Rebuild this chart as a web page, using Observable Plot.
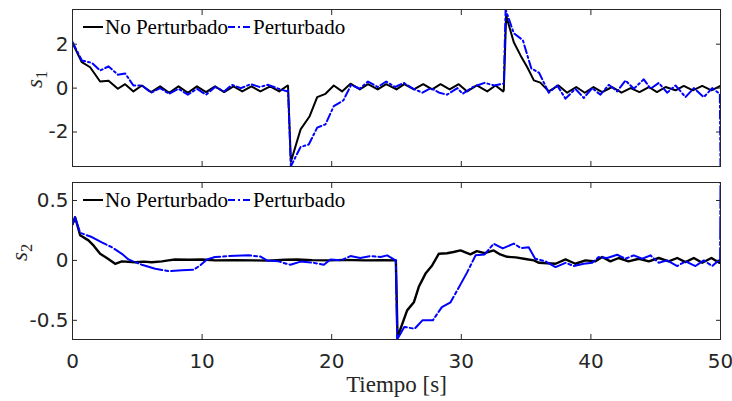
<!DOCTYPE html>
<html><head><meta charset="utf-8">
<script src="https://cdn.jsdelivr.net/npm/d3@7"></script>
<script src="https://cdn.jsdelivr.net/npm/@observablehq/plot@0.6"></script>
<style>
body{margin:0;background:#fff;}
#wrap{position:relative;width:732px;height:401px;overflow:hidden;}
.panel{position:absolute;left:0;}
.lg{position:absolute;left:0;width:400px;height:24px;font-family:"Liberation Serif",serif;font-size:21px;line-height:24px;color:#000;}
.lg span{position:absolute;top:0;white-space:nowrap;}
.lg svg{position:absolute;top:0;}
</style></head><body><div id="wrap"></div>
<script>
// ---- data (time [s], value) ----
const xTicks = [0, 10, 20, 30, 40, 50];
const s1Ticks = [-2, 0, 2];
const s2Ticks = [-0.5, 0, 0.5];
const s1Domain = [-3.57, 3.58];
const s2Domain = [-0.66, 0.65];
const seriesNames = ["No Perturbado", "Perturbado"];

const s1NoPert = [[0,2.05],[0.72,1.18],[1.36,0.95],[2.13,0.30],[2.78,0.34],[3.5,-0.03],[4.06,0.18],[4.7,-0.15],[5.35,0.12],[6.07,-0.18],[6.76,0.08],[7.46,-0.21],[8.18,0.08],[8.9,-0.21],[9.6,0.08],[10.3,-0.18],[11.0,0.08],[11.7,-0.18],[12.42,0.08],[13.1,-0.15],[13.8,0.08],[14.5,-0.15],[15.25,0.08],[15.95,-0.15],[16.6,0.12],[16.63,0.1],[16.85,-3.35],[17.6,-1.88],[18.3,-1.28],[18.88,-0.41],[19.52,-0.26],[20.16,0.12],[20.8,-0.15],[21.45,0.2],[22.17,-0.06],[22.8,0.18],[23.55,-0.06],[24.2,0.18],[25.0,-0.06],[25.6,0.18],[26.34,-0.06],[27.06,0.18],[27.75,-0.06],[28.4,0.18],[29.1,-0.06],[29.8,0.18],[30.45,-0.15],[31.2,0.12],[32.0,-0.15],[32.64,0.12],[33.23,-0.15],[33.28,-0.1],[33.46,3.3],[34.05,2.09],[34.57,1.49],[35.09,0.95],[35.6,0.35],[36.1,0.25],[36.75,-0.15],[37.5,0.12],[38.17,-0.21],[38.87,0.05],[39.53,-0.21],[40.2,0.05],[40.87,-0.18],[41.64,0.05],[42.36,-0.21],[43.06,0.0],[43.75,-0.18],[44.47,0.05],[45.1,-0.18],[45.76,0.05],[46.53,-0.1],[47.17,0.1],[47.86,-0.1],[48.59,0.1],[49.3,-0.1],[50,0.1]];

const s1Pert = [[0,2.1],[0.72,1.26],[1.49,1.15],[2.13,0.80],[2.78,0.99],[3.5,0.61],[4.06,0.67],[4.7,0.12],[5.35,0.12],[6.07,-0.21],[6.76,0.0],[7.46,-0.26],[8.18,-0.03],[8.9,-0.3],[9.6,-0.03],[10.3,-0.3],[11.0,0.05],[11.7,-0.15],[12.3,0.15],[13.0,0.0],[13.75,0.18],[14.45,0.05],[15.1,0.15],[15.9,-0.03],[16.55,-0.15],[16.63,-0.1],[16.85,-3.56],[17.6,-2.68],[18.23,-2.57],[18.88,-1.8],[19.52,-1.65],[20.16,-0.82],[20.9,-0.56],[21.5,0.15],[22.17,-0.03],[22.8,0.3],[23.55,0.05],[24.2,0.3],[24.9,0.05],[25.55,0.24],[26.3,-0.03],[27.0,-0.21],[27.65,0.0],[28.3,-0.21],[28.9,-0.3],[29.7,0.0],[30.1,-0.26],[30.9,0.05],[31.8,0.24],[32.55,0.12],[33.2,0.2],[33.28,0.2],[33.42,3.58],[34.05,2.5],[34.75,2.18],[35.4,0.9],[36.0,0.7],[36.75,-0.21],[37.4,0.12],[38.04,-0.48],[38.8,-0.03],[39.45,-0.45],[40.1,0.0],[40.74,-0.3],[41.38,0.15],[42.03,-0.15],[42.67,0.35],[43.31,-0.03],[44.08,0.4],[44.6,-0.03],[45.24,0.24],[45.88,-0.21],[46.53,0.12],[47.3,-0.41],[47.94,0.0],[48.71,-0.41],[49.36,0.0],[49.82,-0.21],[49.95,-0.3],[50,-3.56]];

const s2NoPert = [[0,0.3],[0.2,0.36],[0.59,0.21],[1.23,0.167],[1.62,0.125],[2.13,0.055],[2.65,0.02],[3.29,-0.028],[3.81,-0.008],[4.84,-0.015],[5.5,-0.01],[6.12,-0.015],[6.9,-0.008],[7.4,0.0],[7.9,0.008],[9.0,0.005],[10.0,0.008],[11.0,0.0],[12.55,0.002],[14.0,0.0],[15.1,-0.002],[16.4,0.005],[17.33,0.008],[18.5,0.002],[19.9,0.0],[21.0,0.004],[22.5,0.0],[24.0,0.002],[24.95,0.0],[25.08,-0.64],[25.82,-0.417],[26.34,-0.35],[26.72,-0.22],[27.24,-0.11],[27.75,-0.042],[28.27,0.056],[28.9,0.06],[29.4,0.07],[29.94,0.083],[30.7,0.05],[31.2,0.077],[31.8,0.06],[32.5,0.083],[33.0,0.05],[33.54,0.03],[34.2,0.025],[34.95,0.012],[35.6,0.0],[36.0,-0.02],[37.27,-0.028],[38.04,0.008],[38.8,-0.028],[39.58,0.0],[40.35,-0.008],[40.87,0.028],[41.5,-0.008],[42.15,0.02],[42.9,-0.008],[43.7,0.014],[44.47,-0.008],[45.24,0.02],[46.0,-0.008],[46.66,0.02],[47.3,-0.014],[47.94,0.02],[48.59,-0.02],[49.3,0.02],[49.9,-0.02],[50,0.0]];

const s2Pert = [[0,0.3],[0.2,0.36],[0.59,0.23],[1.49,0.195],[2.26,0.15],[3.03,0.11],[3.81,0.055],[4.32,0.008],[5.35,-0.036],[6.38,-0.07],[7.4,-0.089],[8.44,-0.083],[9.34,-0.078],[9.85,-0.042],[10.37,0.008],[11.0,0.028],[12.0,0.036],[13.58,0.042],[14.48,0.033],[15.0,0.0],[15.9,-0.008],[16.5,-0.028],[16.82,-0.036],[17.6,-0.01],[18.6,-0.02],[19.4,-0.036],[19.9,0.008],[20.7,0.0],[21.45,0.036],[22.2,0.02],[23.0,0.036],[23.77,0.028],[24.28,0.042],[24.8,0.008],[24.95,0.0],[25.05,-0.66],[25.6,-0.555],[26.4,-0.57],[27.0,-0.5],[27.8,-0.5],[28.5,-0.39],[29.17,-0.35],[29.94,-0.2],[30.45,-0.1],[31.1,0.042],[31.8,0.05],[32.5,0.14],[33.2,0.1],[34.05,0.14],[34.6,0.103],[35.2,0.11],[35.7,0.014],[36.5,-0.008],[37.27,-0.056],[38.04,-0.02],[38.68,-0.047],[39.45,-0.028],[40.1,-0.02],[40.6,0.028],[41.25,0.02],[42.03,0.047],[42.67,0.014],[43.31,0.042],[43.96,0.014],[44.6,0.042],[45.24,-0.02],[45.88,0.0],[46.66,-0.047],[47.3,-0.008],[48.07,-0.047],[48.71,0.0],[49.36,-0.047],[49.85,0.0],[49.97,0.0],[50,0.65]];

// ---- drawing ----
const AX = "#262626";
const T = d => d[0], V = d => d[1];

function makePanel(cfg) {
  const marks = [
    Plot.line(cfg.black, {x: T, y: V, stroke: "#000000", strokeWidth: cfg.blackWidth, clip: true}),
    Plot.line(cfg.blue, {x: T, y: V, stroke: "#0000ff", strokeWidth: 2, strokeDasharray: cfg.dash, clip: true}),
    Plot.frame({stroke: AX, strokeWidth: 1}),
    Plot.axisX({ticks: xTicks, anchor: "bottom", tickSize: 5, dy: -5, tickFormat: () => "", stroke: AX, label: null}),
    Plot.axisX({ticks: xTicks, anchor: "top", tickSize: 5, dy: 5, tickFormat: () => "", stroke: AX, label: null}),
    Plot.axisY({ticks: cfg.yTicks, anchor: "left", tickSize: 5, dx: 5, tickFormat: () => "", stroke: AX, label: null}),
    Plot.axisY({ticks: cfg.yTicks, anchor: "right", tickSize: 5, dx: -5, tickFormat: () => "", stroke: AX, label: null}),
    Plot.axisY({ticks: cfg.yTicks, anchor: "left", tickSize: 0, tickPadding: 4, tickFormat: d => String(d), fill: AX, fontSize: 20, label: null}),
    Plot.text([cfg.ylabelKey], {text: d => d, frameAnchor: "left", dx: cfg.ylabelDx, rotate: -90, fontFamily: "Liberation Serif, serif", fontStyle: "italic", fontSize: 23, fill: AX})
  ];
  if (cfg.showX) {
    marks.push(Plot.axisX({ticks: xTicks, anchor: "bottom", tickSize: 0, tickPadding: 14, tickFormat: d => String(d), fill: AX, fontSize: 20, label: null}));
    marks.push(Plot.text(["Tiempo [s]"], {text: d => d, frameAnchor: "bottom", dy: 45, lineAnchor: "middle", fontFamily: "Liberation Serif, serif", fontSize: 23, fill: AX}));
  }
  const svg = Plot.plot({
    width: 732, height: cfg.height,
    marginLeft: 72, marginRight: 12, marginTop: cfg.marginTop, marginBottom: cfg.marginBottom,
    x: {domain: [0, 50]},
    y: {domain: cfg.yDomain},
    style: {fontFamily: "'DejaVu Sans', sans-serif", fontSize: "20px", background: "transparent", overflow: "visible"},
    marks
  });
  // subscript for the y label
  d3.select(svg).selectAll("text").each(function() {
    if (this.textContent === cfg.ylabelKey) {
      this.textContent = "";
      d3.select(this).append("tspan").text(cfg.ylabelKey[0]);
      d3.select(this).append("tspan").attr("dy", "0.3em").attr("font-size", "0.72em").attr("font-style", "normal").text(cfg.ylabelKey.slice(1));
    }
  });
  return svg;
}

function legend(top, dash) {
  const d = document.createElement("div");
  d.className = "lg";
  d.style.top = top + "px";
  d.innerHTML =
    `<svg width="20" height="24" style="left:83px"><line x1="0" x2="20" y1="12" y2="12" stroke="#000" stroke-width="2"/></svg>` +
    `<span style="left:105px">${seriesNames[0]}</span>` +
    `<svg width="24" height="24" style="left:228px"><line x1="0" x2="24" y1="12" y2="12" stroke="#0000ff" stroke-width="2" stroke-dasharray="${dash}"/></svg>` +
    `<span style="left:253px">${seriesNames[1]}</span>`;
  return d;
}

const wrap = document.getElementById("wrap");
const p1 = document.createElement("div"); p1.className = "panel"; p1.style.top = "0px";
p1.appendChild(makePanel({height: 170, marginTop: 9, marginBottom: 4, yDomain: s1Domain, yTicks: s1Ticks, black: s1NoPert, blue: s1Pert, dash: "8,3,2,3", blackWidth: 2, showX: false, ylabelKey: "s1", ylabelDx: -38}));
const p2 = document.createElement("div"); p2.className = "panel"; p2.style.top = "170px";
p2.appendChild(makePanel({height: 231, marginTop: 12, marginBottom: 62, yDomain: s2Domain, yTicks: s2Ticks, black: s2NoPert, blue: s2Pert, dash: "22,3,3,3", blackWidth: 2.4, showX: true, ylabelKey: "s2", ylabelDx: -53}));
wrap.appendChild(p1);
wrap.appendChild(p2);
wrap.appendChild(legend(15, "7,3,2,3"));
wrap.appendChild(legend(188, "7,3,2,3"));
</script></body></html>
